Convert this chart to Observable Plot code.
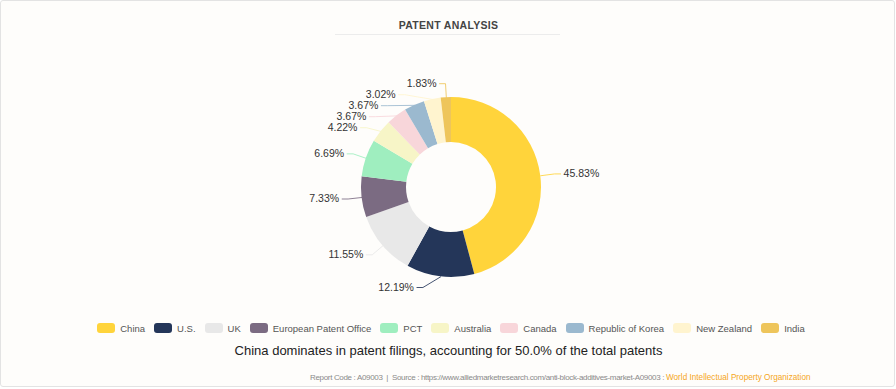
<!DOCTYPE html>
<html><head><meta charset="utf-8">
<script src="https://cdn.jsdelivr.net/npm/d3@7"></script>
<script src="https://cdn.jsdelivr.net/npm/@observablehq/plot@0.6"></script>
<style>
body{margin:0;width:896px;height:389px;background:#fff;position:relative;overflow:hidden;font-family:"Liberation Sans",Arial,sans-serif;}
#box{position:absolute;left:0;top:0;width:893px;height:385px;border:1px solid #e3e3e3;border-radius:3px;background:#fefdfb;}
#title{position:absolute;left:0;top:19px;width:897px;text-align:center;font-weight:bold;font-size:10.5px;letter-spacing:0.3px;color:#444;}
#rule{position:absolute;left:335px;top:34px;width:225px;height:1px;background:#ececec;}
#chart{position:absolute;left:0;top:45px;}
#legend{position:absolute;left:6px;top:322px;width:890px;height:12px;display:flex;justify-content:center;align-items:center;font-size:9.5px;color:#555;white-space:nowrap;}
#legend .item{display:flex;align-items:center;margin:0 4.5px;}
#legend .sw{display:inline-block;width:18px;height:10px;border-radius:3px;margin-right:5px;}
#caption{position:absolute;left:0;top:343px;width:897px;text-align:center;font-size:13px;color:#222;}
#footer{position:absolute;left:310px;top:366px;white-space:nowrap;}
#footer .g{font-size:8px;letter-spacing:-0.33px;color:#8a8a8a;}
#footer .o{font-size:8.2px;color:#f5a623;}
</style></head><body>
<div id="box"></div>
<div id="title">PATENT ANALYSIS</div>
<div id="rule"></div>
<div id="chart"></div>
<div id="legend"></div>
<div id="caption">China dominates in patent filings, accounting for 50.0% of the total patents</div>
<div id="footer"><span class="g">Report Code : A09003 &nbsp;|&nbsp; Source : https://www.alliedmarketresearch.com/anti-block-additives-market-A09003 : </span><span class="o">World Intellectual Property Organization</span></div>
<script>
const categories = ["China","U.S.","UK","European Patent Office","PCT","Australia","Canada","Republic of Korea","New Zealand","India"];
const shares = [45.83,12.19,11.55,7.33,6.69,4.22,3.67,3.67,3.02,1.83];
const colors = ["#ffd43b","#243659","#e8e8e8","#7b6b82","#9feebf","#f7f5c7","#f8d6da","#9bb9cf","#fff4cf","#eec55b"];
const labels = shares.map(v => v.toFixed(2) + "%");

// geometry (pixels)
const W = 896, H = 265, CX = 451, CY = 142, RPX = 90;
const L1 = 14 / RPX, L2 = 6 / RPX, GAP = 11 / RPX;
const R = 1 + L1, YMAX = 104 / RPX, YMIN = -100 / RPX;

const total = d3.sum(shares);
let cum = 0;
const slices = shares.map((v, i) => {
  const a0 = 2 * Math.PI * cum / total; cum += v;
  const a1 = 2 * Math.PI * cum / total;
  const mid = (a0 + a1) / 2;
  return {name: categories[i], value: v, color: colors[i], label: labels[i], a0, a1, mid,
    side: Math.sin(mid) >= 0 ? 1 : -1, ly: R * Math.cos(mid)};
});

// label layout per side
for (const s of [1, -1]) {
  const arr = slices.filter(d => d.side === s).sort((a, b) => b.ly - a.ly);
  for (let i = 1; i < arr.length; i++) arr[i].ly = Math.min(arr[i].ly, arr[i-1].ly - GAP);
  for (const d of arr) d.ly = Math.max(YMIN, Math.min(YMAX, d.ly));
  for (let i = arr.length - 2; i >= 0; i--) arr[i].ly = Math.max(arr[i].ly, arr[i+1].ly + GAP);
}
const lineRows = [];
const labelRows = [];
for (const d of slices) {
  const ex = d.side * Math.sqrt(Math.max(0, R * R - d.ly * d.ly));
  const endx = ex + d.side * L2;
  lineRows.push({name: d.name, color: d.color, x: Math.sin(d.mid), y: Math.cos(d.mid)});
  lineRows.push({name: d.name, color: d.color, x: ex, y: d.ly});
  lineRows.push({name: d.name, color: d.color, x: endx, y: d.ly});
  labelRows.push({name: d.name, label: d.label, side: d.side, x: endx, y: d.ly});
}

function donut(index, scales) {
  const x0 = scales.x(0), y0 = scales.y(0);
  const r = scales.x(1) - x0;
  const arc = d3.arc().innerRadius(r * 0.5).outerRadius(r);
  const g = d3.create("svg:g").attr("transform", `translate(${x0},${y0})`);
  g.selectAll("path").data(slices).join("path")
    .attr("d", d => arc({startAngle: d.a0, endAngle: d.a1}))
    .attr("fill", d => d.color);
  return g.node();
}

const chart = Plot.plot({
  width: W, height: H, margin: 0,
  style: {background: "transparent", overflow: "visible"},
  x: {domain: [-CX / RPX, (W - CX) / RPX], axis: null},
  y: {domain: [-(H - CY) / RPX, CY / RPX], axis: null},
  color: {type: "identity"},
  marks: [
    donut,
    Plot.line(lineRows, {x: "x", y: "y", z: "name", stroke: "color", strokeWidth: 1, strokeOpacity: 0.85}),
    Plot.text(labelRows.filter(d => d.side > 0), {x: "x", y: "y", text: "label", textAnchor: "start", dx: 3, fill: "#333", fontSize: 10.5, fontFamily: "Liberation Sans, Arial, sans-serif"}),
    Plot.text(labelRows.filter(d => d.side < 0), {x: "x", y: "y", text: "label", textAnchor: "end", dx: -3, fill: "#333", fontSize: 10.5, fontFamily: "Liberation Sans, Arial, sans-serif"})
  ]
});
document.getElementById("chart").appendChild(chart);

const legend = d3.select("#legend");
categories.forEach((c, i) => {
  const it = legend.append("div").attr("class", "item");
  it.append("span").attr("class", "sw").style("background", colors[i]);
  it.append("span").text(c);
});
</script>
</body></html>
